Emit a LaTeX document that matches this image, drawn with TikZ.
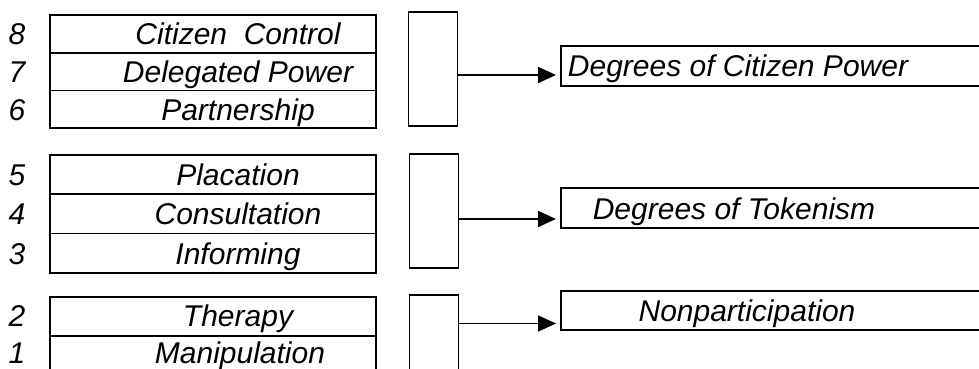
\documentclass[tikz,border=0pt]{standalone}
\usepackage{fontspec}
\setmainfont{Liberation Sans}
\usetikzlibrary{
    arrows.meta,            % Triangle arrow tips.
    positioning             % Relative positioning of nodes.
}

\begin{document}
\begin{tikzpicture}[x=1pt, y=-1pt, line width=1.7pt,
        >={Triangle[length=18pt, width=16pt]},
        lbl/.style={anchor=base, inner sep=0pt,
            font=\fontsize{30}{36}\selectfont\itshape},
        rung/.style={draw, outer sep=0pt, inner sep=0pt,
            minimum width=326pt, anchor=north west},
        brace/.style={draw, outer sep=0pt, inner sep=0pt,
            minimum width=49pt, minimum height=114pt},
        level/.style={draw, outer sep=0pt, inner sep=0pt,
            minimum width=440pt, minimum height=40pt, anchor=north west}]
                \useasboundingbox (0,0) rectangle (979,369);
                \clip (0,0) rectangle (979,369);
                % rungs of the ladder
                \node[rung, minimum height=37.7pt] (r8) at (50,15) {};
                \node[rung, minimum height=37.7pt, below=0pt of r8] (r7) {};
                \node[rung, minimum height=37.7pt, below=0pt of r7] (r6) {};
                \node[rung, minimum height=39.3pt] (r5) at (50,155) {};
                \node[rung, minimum height=39.3pt, below=0pt of r5] (r4) {};
                \node[rung, minimum height=39.3pt, below=0pt of r4] (r3) {};
                \node[rung, minimum height=39pt] (r2) at (50,297) {};
                \node[rung, minimum height=39pt, below=0pt of r2] (r1) {};
                \node[lbl] (t8) at ([yshift=-11pt]r8.center -| 238,0) {Citizen\ \ Control};
                \node[lbl] (t7) at ([yshift=-11pt]r7.center -| 238,0) {Delegated Power};
                \node[lbl] (t6) at ([yshift=-11pt]r6.center -| 238,0) {Partnership};
                \node[lbl] (t5) at ([yshift=-11pt]r5.center -| 238,0) {Placation};
                \node[lbl] (t4) at ([yshift=-11pt]r4.center -| 238,0) {Consultation};
                \node[lbl] (t3) at ([yshift=-11pt]r3.center -| 238,0) {Informing};
                \node[lbl] (t2) at ([yshift=-10pt]r2.center -| 238,0) {Therapy};
                \node[lbl] (t1) at ([yshift=-8pt]r1.center -| 240,0) {Manipulation};
                \node[lbl] (n8) at ([yshift=-11pt]r8.center -| 17,0) {8};
                \node[lbl] (n7) at ([yshift=-11pt]r7.center -| 17,0) {7};
                \node[lbl] (n6) at ([yshift=-11pt]r6.center -| 17,0) {6};
                \node[lbl] (n5) at ([yshift=-11pt]r5.center -| 17,0) {5};
                \node[lbl] (n4) at ([yshift=-11pt]r4.center -| 17,0) {4};
                \node[lbl] (n3) at ([yshift=-11pt]r3.center -| 17,0) {3};
                \node[lbl] (n2) at ([yshift=-10pt]r2.center -| 17,0) {2};
                \node[lbl] (n1) at ([yshift=-8pt]r1.center -| 17,0) {1};
                % grouping boxes
                \node[brace] (b1) at (433,69) {};
                \node[brace] (b2) at (434,211) {};
                \node[brace] (b3) at (434,352) {};
                % degrees
                \node[level] (d1) at (561,46) {};
                \node[level] (d2) at (561,188) {};
                \node[level, minimum height=39pt] (d3) at (561,291) {};
                \node[lbl] (p1) at ([yshift=-11pt]d1.center -| 738,0) {Degrees of Citizen Power};
                \node[lbl] (p2) at ([yshift=-11pt]d2.center -| 734,0) {Degrees of Tokenism};
                \node[lbl] (p3) at ([yshift=-11pt]d3.center -| 747,0) {Nonparticipation};
                \draw[->, shorten >=5pt] ([yshift=-9pt]d1.west -| b1.east) to ([yshift=-9pt]d1.west);
                \draw[->, shorten >=5pt] ([yshift=-11pt]d2.west -| b2.east) to ([yshift=-11pt]d2.west);
                \draw[->, shorten >=5pt] ([yshift=-13pt]d3.west -| b3.east) to ([yshift=-13pt]d3.west);
            \end{tikzpicture}
\end{document}
